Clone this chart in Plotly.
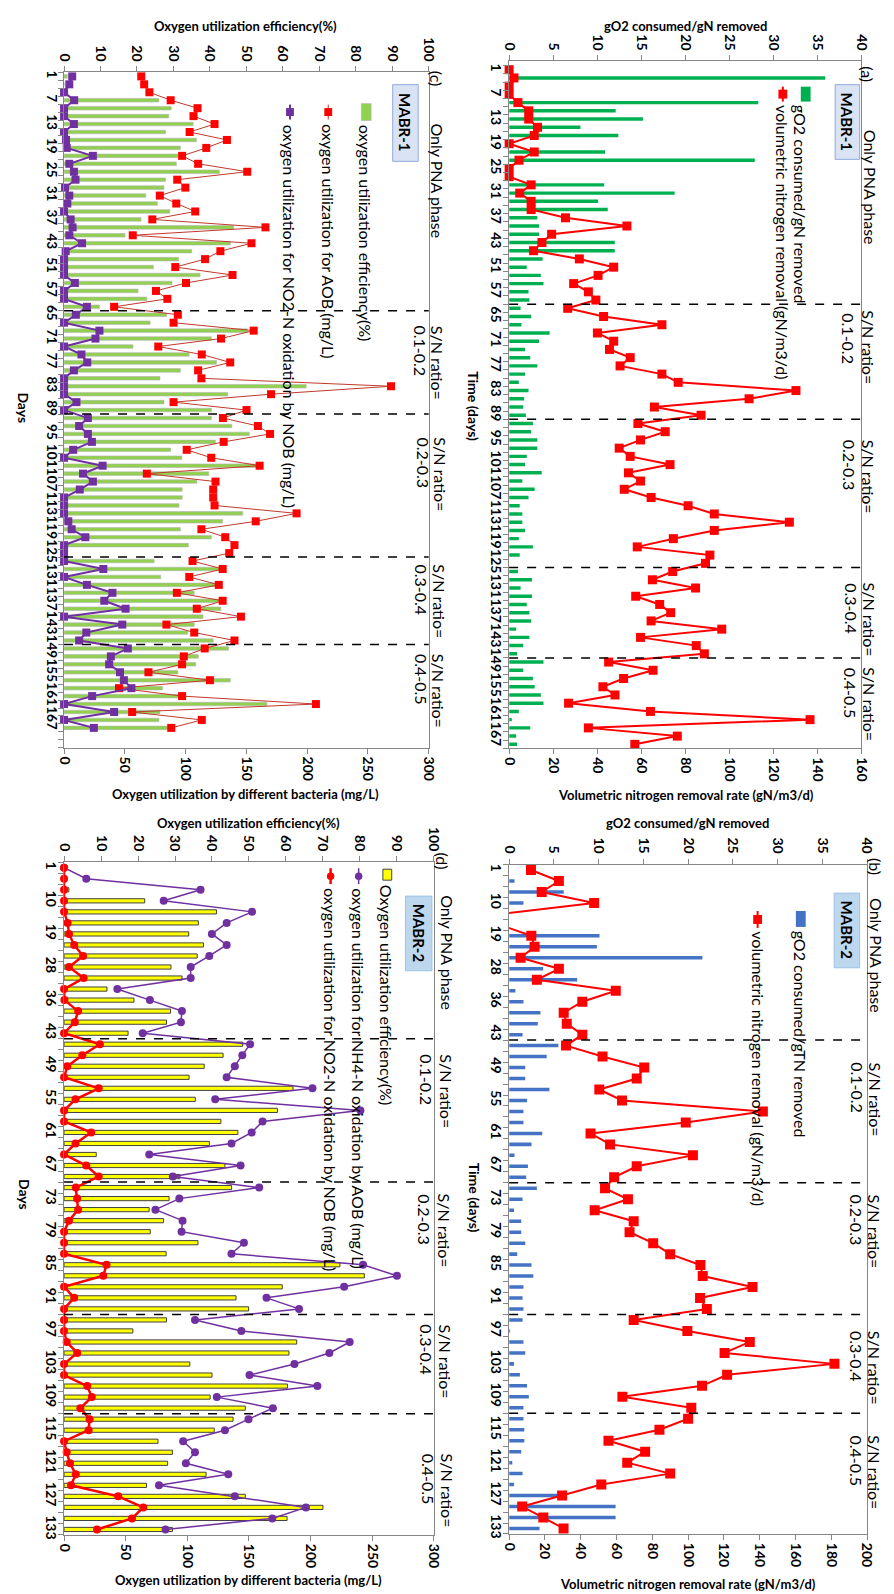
import plotly.graph_objects as go

W, H = 894, 1594
FONT = "Lato"
GRAY = "#868686"

# ---------------- data ----------------
days_mabr1 = [1, 3, 5, 7, 9, 11, 13, 15, 17, 19, 21, 23, 25, 27, 29, 31, 33, 35, 37, 39, 41, 43,
              45, 47, 51, 53, 55, 57, 59, 61, 65, 67, 69, 71, 73, 75, 77, 79, 81, 83, 85, 87, 89,
              91, 93, 95, 97, 99, 101, 103, 105, 107, 109, 111, 113, 115, 117, 119, 121, 123, 125,
              127, 129, 131, 133, 135, 137, 139, 141, 143, 145, 147, 149, 151, 153, 155, 157, 159,
              161, 163, 165, 167, 169]
days_mabr2 = [1, 4, 7, 10, 13, 16, 19, 22, 25, 28, 31, 33, 36, 38, 40, 43, 45, 47, 49, 51, 53, 55,
              57, 59, 61, 63, 65, 67, 69, 71, 73, 75, 77, 79, 81, 83, 85, 87, 89, 91, 93, 95, 97,
              99, 101, 103, 105, 107, 109, 111, 113, 115, 117, 119, 121, 123, 125, 127, 129, 131, 133]

# (a) MABR-1
a_go2 = [0, 35.9, 0, 0, 28.3, 12.1, 15.2, 8.1, 12.4, 0,
         10.9, 27.9, 0, 0, 10.8, 18.8, 10.1, 11.2, 3.2, 3.4,
         3.4, 12.0, 12.0, 3.8, 2.0, 3.6, 3.9, 2.2, 2.3, 1.3,
         2.5, 1.4, 4.6, 3.4, 1.8, 2.4, 3.2, 1.8, 1.1, 2.2,
         1.7, 1.6, 1.9, 2.7, 2.5, 3.2, 3.2, 2.0, 1.8, 3.7,
         1.5, 2.9, 2.2, 1.2, 1.5, 1.5, 1.8, 1.1, 2.7, 1.2,
         0, 1.0, 2.6, 1.3, 2.6, 2.0, 2.3, 2.5, 0.8, 2.3,
         1.6, 0.9, 3.9, 1.6, 2.7, 2.9, 3.6, 3.9, 1.1, 0.3,
         2.4, 0.8, 0.9]
a_vnrr = [0, 2.2, 0, 0, 4, 8.9, 8.9, 12.9, 11.4, 0,
          11.4, 4.5, 0, 0, 10, 4.8, 10, 10, 25.6, 53.5,
          19.3, 14.9, 11.1, 31.9, 47.5, 40.4, 29.3, 36, 39.4, 26.6,
          42.9, 69.4, 40.1, 47.5, 45.6, 55, 50.4, 69.4, 76.8, 130.3,
          109, 66, 87.2, 58.5, 70.9, 59.7, 50, 55, 73.1, 54.2,
          59.7, 52.3, 64.5, 81.3, 93.2, 127.3, 93.2, 74.6, 58.2, 91.2,
          89.2, 74.3, 65.1, 84.7, 57.5, 68.4, 73.4, 64.5, 96.6, 59.7,
          85, 88.7, 45.2, 65.4, 52, 42.6, 48.1, 27, 64.2, 136.7,
          36, 76.4, 57.1]

# (b) MABR-2
b_go2 = [0, 0.6, 6.1, 1.6, 0, 0, 10.1, 9.8, 21.6, 3.8,
         7.6, 0.7, 1.6, 3.5, 3.2, 1.5, 5.5, 4.2, 1.8, 1.8,
         4.5, 2.0, 1.6, 1.6, 3.7, 2.5, 0.6, 2.1, 1.9, 3.1,
         1.5, 0.55, 1.35, 1.35, 1.8, 0.9, 2.5, 2.7, 1.6, 1.5,
         1.6, 1.5, 0.1, 1.6, 1.8, 0.55, 1.2, 2.0, 2.2, 1.6,
         1.6, 1.7, 1.7, 1.35, 0.35, 1.5, 0.55, 5.9, 11.9, 11.9,
         3.4]
b_vnrr = [12.2, 27.8, 18.2, 47.5, -5, -5, 12.4, 14.2, 6.4, 27.8,
          15.5, 59.6, 40.9, 30.5, 32.2, 40.9, 31.8, 52.2, 75.5, 71.3,
          50.4, 63.1, 141.8, 98.7, 45.5, 56.4, 102.7, 71.3, 58.7, 53.6,
          66.4, 47.8, 69.6, 67.3, 80.5, 90, 106.9, 108.2, 136, 106.7,
          110.5, 69.6, 99.6, 134.5, 120.4, 181.8, 121.8, 107.8, 63.3, 101.8,
          100, 84, 55.5, 76, 66, 90, 51.5, 29.6, 7.3, 19.1,
          30.4]

# (c) MABR-1
c_eff = [0.9, 0, 0, 26, 29.4, 28.7, 35.4, 27.8, 36.3, 31.9,
         31.2, 30.8, 42.6, 27.8, 27.4, 22.4, 25.6, 29, 21.1, 46.5,
         16.7, 45.6, 35, 31.4, 24.5, 37.3, 29.6, 20.3, 22.7, 9.7,
         28.1, 23.6, 50.3, 40.4, 18.9, 34.3, 41.8, 31.9, 26.3, 66.4,
         44.9, 27.4, 40.4, 40.4, 46, 50.8, 41.5, 29.2, 32.3, 53.6,
         39.7, 36.4, 32.4, 32.4, 31.5, 49, 43.5, 31.9, 40.4, 34.1,
         0, 24.7, 43, 26.5, 42.6, 35.7, 43, 43, 38.1, 35.7,
         33.9, 40.9, 45.1, 36.8, 36.1, 31.2, 45.6, 27, 32.4, 55.6,
         26.3, 26, 29.4]
c_aob = [63.5, 65.9, 70.2, 87.7, 109.8, 106.5, 123.8, 103.3, 134, 117,
         97.1, 110.3, 150.7, 93.1, 99.8, 78.8, 92.3, 107.9, 72.6, 165.7,
         56.5, 154.2, 128.6, 116, 91.5, 138.6, 100.3, 75.6, 85, 41.2,
         93.6, 90.1, 156, 129.1, 77.5, 113.3, 136.7, 110.3, 113, 269,
         170.3, 90.1, 150.1, 130.7, 159.5, 169.5, 131.3, 100.9, 121.1, 160.9,
         68.1, 124.6, 122.7, 122.7, 123.8, 191.3, 157.7, 113, 132.6, 140.2,
         135.9, 105.7, 130.5, 103, 127.3, 92.8, 130.5, 109.2, 145.5, 84.2,
         107.1, 140.2, 115.7, 98.5, 97.1, 69.4, 120, 45.2, 97.1, 207.2,
         56, 113.3, 88.2]
c_nob = [6.7, 4.3, 0, 8.3, 0, 0, 8.1, 0, 1.6, 2.2,
         23.7, 4.3, 8.1, 9.4, 0.8, 4.3, 2.7, 0, 5.4, 7,
         4.3, 14.8, 1.3, 0, 0, 0, 8.9, 0, 0, 18.8,
         9.7, 0, 29.1, 25.8, 0, 14.3, 19.1, 8.1, 0, 0,
         0, 10.2, 0, 19.6, 12.4, 19.6, 22.9, 7.5, 0, 31.7,
         15.6, 23.7, 12.9, 0, 0, 0, 3.5, 6.2, 17.5, 0,
         0, 0, 32.3, 0, 18.8, 39.8, 33.1, 50.6, 0, 47.9,
         18.3, 12.4, 52.5, 38.5, 37.1, 46, 49.2, 55.4, 23.1, 0,
         41.2, 0, 24.5]

# (d) MABR-2
d_eff = [0, 0, 1.3, 21.8, 41.2, 36.3, 33.7, 37.7, 36, 28.9,
         31.9, 11.6, 18.9, 28.8, 27.7, 17.3, 48.3, 43, 37.9, 33.8,
         61.9, 35.5, 57.7, 42.4, 47, 39.3, 8.7, 43.5, 31.3, 45.3,
         28.4, 23, 26.9, 23.3, 36.2, 27.6, 74.6, 81.2, 59, 46.5,
         49.9, 27.7, 18.6, 62.9, 60.8, 34, 40, 60.4, 39.5, 49,
         45.7, 40.6, 25.4, 29.3, 28, 38.4, 22.3, 49, 70, 60.3,
         29.3]
d_aob = [0, 18, 110.7, 80.8, 152.5, 131.9, 119.9, 131.9, 117.8, 102.7,
         102.7, 43.2, 69.6, 95.6, 94.8, 63.8, 150.9, 144.6, 138.5, 131.9,
         201.5, 122.6, 240.4, 161, 152.2, 135.8, 69.1, 143.2, 88.2, 158.3,
         93.5, 74.1, 96.1, 95.3, 145.9, 135.8, 242.5, 270, 227.2, 164.2,
         190.6, 106.2, 143.8, 231.7, 215.2, 186.9, 150.4, 205.5, 123.9, 169.4,
         149.6, 130.5, 96.6, 106.2, 98.8, 133.2, 77, 138.5, 196.2, 168.9,
         82.3]
d_nob = [0, 0, 0, 0, 0, 2.9, 4, 8.2, 15.4, 4,
         15.9, 0, 0.3, 11.4, 8.7, 0, 29.1, 14.8, 2.6, 0,
         28.1, 9.3, 0, 0, 22, 9.3, 0, 18, 28.1, 9.5,
         10.6, 11.4, 4, 0, 0, 0, 34.4, 31.8, 0, 8.2,
         0, 0, 0, 2.1, 10.6, 0, 0, 18.8, 22.5, 13.2,
         20.7, 19.9, 0, 2.1, 4.8, 9.5, 5.6, 43.9, 64.3, 55.1,
         26.7]

# first day of each new S/N phase (dashed separators)
phase_start_a = [61, 91, 127, 149]
phase_start_b = [45, 71, 95, 113]
phase_start_c = [65, 91, 127, 149]
phase_start_d = [45, 71, 95, 113]
phase_labels = ["0.1-0.2", "0.2-0.3", "0.3-0.4", "0.4-0.5"]

# ---------------- helpers ----------------
fig = go.Figure()
TXT = 16


def px_x(x):
    return x / W


def px_y(y):
    return 1 - y / H


def ref(prefix, n):
    return prefix + ("" if n == 1 else str(n))


def key(prefix, n):
    return prefix + "axis" + ("" if n == 1 else str(n))


def setup_panel(k, days, xpx, ypx, yrange, top, bot, tick_size=14):
    nt, nb, ny = 2 * k + 1, 2 * k + 2, k + 1
    xt, xb, yy = ref("x", nt), ref("x", nb), ref("y", ny)
    common = dict(showline=True, linecolor=GRAY, linewidth=1, ticks="outside", ticklen=5,
                  tickcolor=GRAY, tickangle=90, showgrid=False, zeroline=False,
                  tickfont=dict(family=FONT, size=14, color="black", weight="bold"))
    fig.layout[key("x", nt)] = dict(domain=[px_x(xpx[0]), px_x(xpx[1])], range=[top[0], top[1]],
                                    dtick=top[2], tick0=0, side="top", anchor=yy, **common)
    fig.layout[key("x", nb)] = dict(range=[bot[0], bot[1]], dtick=bot[2], tick0=0, side="bottom",
                                    overlaying=xt, anchor=yy, **common)
    tv = list(range(0, len(days), 3))
    fig.layout[key("y", ny)] = dict(
        domain=[px_y(ypx[1]), px_y(ypx[0])], range=[yrange[1], yrange[0]], anchor=xt,
        tickmode="array", tickvals=tv, ticktext=[str(days[i]) for i in tv], ticks="",
        tickangle=90, showline=True, mirror=True, linecolor=GRAY, linewidth=1,
        showgrid=False, zeroline=False,
        tickfont=dict(family=FONT, size=tick_size, color="black", weight="bold"),
        minor=dict(ticks="outside", ticklen=5, tickcolor=GRAY, tick0=0.5, dtick=1, showgrid=False))
    return xt, xb, yy


def phase_lines(xt, yy, days, starts):
    for d in starts:
        pos = days.index(d) - 0.5
        fig.add_shape(type="line", xref=xt + " domain", x0=0, x1=1, yref=yy, y0=pos, y1=pos,
                      line=dict(color="black", width=1.5, dash="dash"))


def txt(x, y, s, size=TXT, bold=False, angle=90, xanchor="center", yanchor="middle"):
    fig.add_annotation(x=px_x(x), y=px_y(y), xref="paper", yref="paper", text=s, showarrow=False,
                       textangle=angle, xanchor=xanchor, yanchor=yanchor,
                       font=dict(family=FONT, size=size, color="black",
                                 weight="bold" if bold else "normal"))


def prect(x0, x1, y0, y1, fill, line_color=None, lw=1):
    fig.add_shape(type="rect", xref="paper", yref="paper", x0=px_x(x0), x1=px_x(x1),
                  y0=px_y(y1), y1=px_y(y0), fillcolor=fill,
                  line=dict(color=line_color or fill, width=lw if line_color else 0))


def pline(x, y0, y1, color, width):
    fig.add_shape(type="line", xref="paper", yref="paper", x0=px_x(x), x1=px_x(x),
                  y0=px_y(y0), y1=px_y(y1), line=dict(color=color, width=width))


def pcircle(x, y, r, color):
    fig.add_shape(type="circle", xref="paper", yref="paper", x0=px_x(x - r), x1=px_x(x + r),
                  y0=px_y(y + r), y1=px_y(y - r), fillcolor=color, line=dict(color=color, width=0))


# ---------------- panel (a) ----------------
idx1 = list(range(len(days_mabr1)))
idx2 = list(range(len(days_mabr2)))

xt, xb, yy = setup_panel(0, days_mabr1, (502.7, 861.7), (51.7, 741.7), (-1.0, 82.5),
                         (0, 40, 5), (0, 160, 20))
fig.add_trace(go.Bar(x=a_go2, y=idx1, orientation="h", xaxis=xt, yaxis=yy, width=0.42,
                     marker=dict(color="#00b050", line=dict(width=0))))
fig.add_trace(go.Scatter(x=a_vnrr, y=idx1, xaxis=xb, yaxis=yy, mode="lines+markers",
                         cliponaxis=False, line=dict(color="#ff0000", width=2),
                         marker=dict(symbol="square", size=9, color="#ff0000")))
phase_lines(xt, yy, days_mabr1, phase_start_a)

# ---------------- panel (b) ----------------
xt, xb, yy = setup_panel(1, days_mabr2, (502.7, 867.5), (858.3, 1530.7), (-0.5, 60.5),
                         (0, 40, 5), (0, 200, 20))
fig.add_trace(go.Bar(x=b_go2, y=idx2, orientation="h", xaxis=xt, yaxis=yy, width=0.32,
                     marker=dict(color="#4472c4", line=dict(width=0))))
fig.add_trace(go.Scatter(x=b_vnrr, y=idx2, xaxis=xb, yaxis=yy, mode="lines+markers",
                         cliponaxis=True, line=dict(color="#ff0000", width=2),
                         marker=dict(symbol="square", size=10, color="#ff0000")))
phase_lines(xt, yy, days_mabr2, phase_start_b)

# ---------------- panel (c) ----------------
xt, xb, yy = setup_panel(2, days_mabr1, (49, 420.7), (62.7, 741), (-0.5, 84.5),
                         (0, 100, 10), (0, 300, 50), tick_size=13.5)
fig.add_trace(go.Bar(x=c_eff, y=idx1, orientation="h", xaxis=xt, yaxis=yy, width=0.45,
                     marker=dict(color="#92d050", line=dict(width=0.6, color="#b4b4b4"))))
fig.add_trace(go.Scatter(x=c_aob, y=idx1, xaxis=xb, yaxis=yy, mode="lines+markers",
                         cliponaxis=False, line=dict(color="#c0392b", width=1),
                         marker=dict(symbol="square", size=8, color="#ff0000")))
fig.add_trace(go.Scatter(x=c_nob, y=idx1, xaxis=xb, yaxis=yy, mode="lines+markers",
                         cliponaxis=False, line=dict(color="#7030a0", width=2),
                         marker=dict(symbol="square", size=8, color="#7030a0")))
phase_lines(xt, yy, days_mabr1, phase_start_c)

# ---------------- panel (d) ----------------
xt, xb, yy = setup_panel(3, days_mabr2, (49, 426), (856, 1531.7), (-0.5, 60.5),
                         (0, 100, 10), (0, 300, 50))
fig.add_trace(go.Bar(x=d_eff, y=idx2, orientation="h", xaxis=xt, yaxis=yy, width=0.38,
                     marker=dict(color="#ffff00", line=dict(width=1, color="#404040"))))
fig.add_trace(go.Scatter(x=d_aob, y=idx2, xaxis=xb, yaxis=yy, mode="lines+markers",
                         cliponaxis=False, line=dict(color="#7030a0", width=1.5),
                         marker=dict(symbol="circle", size=8, color="#7030a0")))
fig.add_trace(go.Scatter(x=d_nob, y=idx2, xaxis=xb, yaxis=yy, mode="lines+markers",
                         cliponaxis=False, line=dict(color="#ff0000", width=2.5),
                         marker=dict(symbol="circle", size=8, color="#ff0000")))
phase_lines(xt, yy, days_mabr2, phase_start_d)

# ---------------- axis titles ----------------
txt(682, 16, "gO2 consumed/gN removed", size=13, bold=True, angle=0)
txt(683, 788, "Volumetric nitrogen removal rate (gN/m3/d)", size=13, bold=True, angle=0)
txt(467, 398, "Time (days)", size=14, bold=True)
txt(685, 817, "gO2 consumed/gN removed", size=13, bold=True, angle=0)
txt(685, 1581, "Volumetric nitrogen removal rate (gN/m3/d)", size=13, bold=True, angle=0)
txt(467, 1193, "Time (days)", size=14, bold=True)
txt(234, 16, "Oxygen utilization efficiency(%)", size=13, bold=True, angle=0)
txt(234, 787, "Oxygen utilization by different bacteria (mg/L)", size=13, bold=True, angle=0)
txt(8, 400, "Days", size=14, bold=True)
txt(237, 817, "Oxygen utilization efficiency(%)", size=13, bold=True, angle=0)
txt(237, 1577, "Oxygen utilization by different bacteria (mg/L)", size=13, bold=True, angle=0)
txt(8, 1190, "Days", size=14, bold=True)

# ---------------- panel letters and phase texts ----------------
txt(868, 65, "(a)")
txt(876, 860, "(b)")
txt(428, 69, "(c)")
txt(435, 855, "(d)")

txt(871, 178, "Only PNA phase")
txt(876.5, 950, "Only PNA phase")
txt(430, 172, "Only PNA phase")
txt(440, 947, "Only PNA phase")

sn_a = [(869, 849, 300, 303), (869, 850, 430, 430), (870.5, 851, 573, 574), (870.5, 851, 658, 659)]
sn_b = [(876.5, 857, 1055, 1055), (875, 857, 1188, 1188), (875, 857, 1325, 1325), (875, 857, 1430, 1430)]
sn_c = [(430, 412.5, 315, 315), (433, 415, 427, 427), (431.5, 413.5, 555, 555), (431.5, 413.5, 645, 645)]
sn_d = [(438.5, 418.5, 1047, 1047), (436.5, 417, 1187, 1187), (438, 418.5, 1318, 1318), (439.5, 420.5, 1448, 1448)]
for group in (sn_a, sn_b, sn_c, sn_d):
    for (x1, x2, y1, y2), lab in zip(group, phase_labels):
        txt(x1, y1, "S/N ratio=", yanchor="top")
        txt(x2, y2, lab, yanchor="top")

# ---------------- legends ----------------
# (a)
prect(835, 860, 75, 150, "#dae3f3", "#8faadc")
txt(847.5, 112.5, "MABR-1", size=15, bold=True)
prect(800, 810, 77, 92, "#00b050")
txt(800.5, 93, "gO2 consumed/gN removed", yanchor="top")
pline(781.7, 77, 92, "#ff0000", 2)
prect(777.2, 786.2, 80, 89, "#ff0000")
txt(782, 93, "volumetric nitrogen removal (gN/m3/d)", yanchor="top")
# (b)
prect(834, 860, 887, 962, "#bdd7ee", "#9dc3e6")
txt(847, 924.5, "MABR-2", size=15, bold=True)
prect(795, 805, 905, 921, "#4472c4")
txt(800, 923, "gO2 consumed/gTN removed", yanchor="top")
pline(756, 905, 922, "#ff0000", 2)
prect(751.5, 760.5, 909, 918, "#ff0000")
txt(756.5, 923, "volumetric nitrogen removal (gN/m3/d)", yanchor="top")
# (c)
prect(384, 410, 75, 152, "#dae3f3", "#8faadc")
txt(397, 113, "MABR-1", size=15, bold=True)
prect(352, 362, 94, 111, "#92d050", "#b4b4b4", 0.6)
txt(357, 113, "oxygen utilization efficiency(%)", yanchor="top")
pline(318.3, 95, 110, "#c0392b", 1)
prect(314.3, 322.3, 98.5, 106.5, "#ff0000")
txt(318.5, 113, "oxygen utilization for AOB (mg/L)", yanchor="top")
pline(279.3, 95, 110, "#7030a0", 2)
prect(275.3, 283.3, 98.5, 106.5, "#7030a0")
txt(279.5, 113, "oxygen utilization for NO2-N oxidation by NOB (mg/L)", yanchor="top")
# (d)
prect(397, 424, 890, 965, "#bdd7ee", "#9dc3e6")
txt(410.5, 927.5, "MABR-2", size=15, bold=True)
prect(374, 383, 863, 874, "#ffff00", "#404040", 1)
txt(378.5, 877, "Oxygen utilization efficiency(%)", yanchor="top")
pline(349.3, 862, 878, "#7030a0", 1.5)
pcircle(349.3, 870, 3.8, "#7030a0")
txt(349.5, 880, "oxygen utilization for NH4-N oxidation by AOB (mg/L)", yanchor="top")
pline(320.7, 862, 878, "#ff0000", 2.5)
pcircle(320.7, 870, 3.8, "#ff0000")
txt(320.7, 880, "oxygen utilization for NO2-N oxidation by NOB (mg/L)", yanchor="top")

fig.update_layout(width=W, height=H, autosize=False, margin=dict(l=0, r=0, t=0, b=0),
                  paper_bgcolor="white", plot_bgcolor="white", showlegend=False,
                  barmode="overlay", font=dict(family=FONT))

fig.write_html("out.html")
